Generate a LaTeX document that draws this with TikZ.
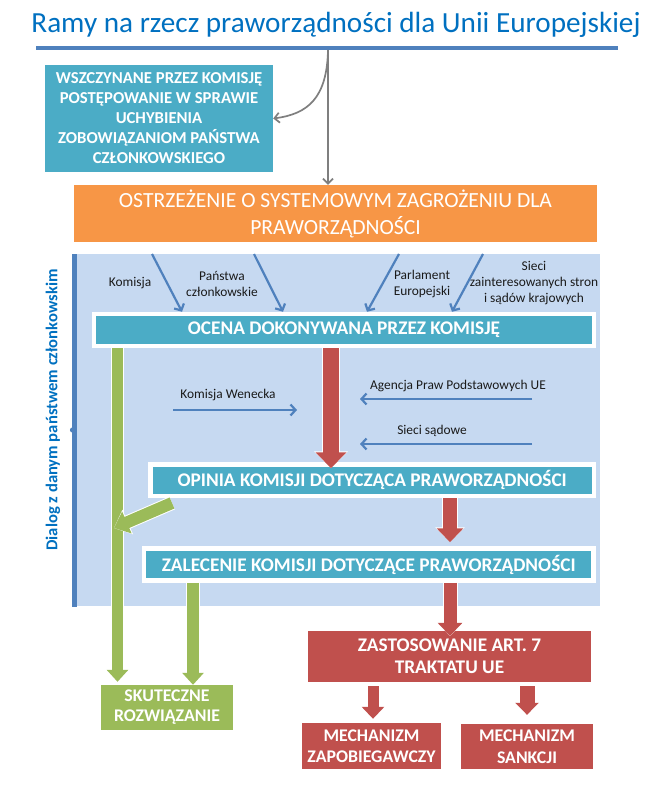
\documentclass[tikz,border=0pt]{standalone}
\usepackage{fontspec}
\setmainfont{Carlito}
\usetikzlibrary{arrows.meta,calc}
\definecolor{cTitle}{HTML}{0070C0}
\definecolor{cBlue}{HTML}{4F81BD}
\definecolor{cTeal}{HTML}{4BACC6}
\definecolor{cOrange}{HTML}{F79646}
\definecolor{cLight}{HTML}{C6D9F1}
\definecolor{cGreen}{HTML}{9BBB59}
\definecolor{cRed}{HTML}{C0504D}
\definecolor{cGray}{HTML}{7F7F7F}
\definecolor{cText}{HTML}{1A1A1A}
\begin{document}
\begin{tikzpicture}[x=1pt,y=-1pt,
  fillbox/.style={inner sep=0pt, align=center, text=white},
  framebox/.style={fillbox, fill=cTeal, draw=white, line width=4.5pt,
     font=\bfseries\fontsize{19.3}{22}\selectfont},
  redbox/.style={fillbox, fill=cRed, font=\bfseries\fontsize{17.8}{21.5}\selectfont},
  lbl/.style={inner sep=0pt, align=center, text=cText, font=\fontsize{13.4}{16}\selectfont},
  barrow/.style={cBlue, line width=2.2pt, -{Straight Barb[length=5pt,width=11pt]}},
  garrow/.style={cGray, line width=1.7pt, -{Straight Barb[length=5pt,width=10pt]}},
]
\useasboundingbox (0,0) rectangle (655,810);

% title
\node[anchor=base, inner sep=0pt, text=cTitle, font=\fontsize{29.2}{31}\selectfont] (title) at (336,33) {Ramy na rzecz praworządności dla Unii Europejskiej};
\draw[cBlue, line width=4pt] (36,48) -- (618,48);
\coordinate (gs) at (328,50);

% top boxes
\node[fillbox, fill=cTeal, minimum width=228pt, minimum height=107pt,
  font=\bfseries\fontsize{16.7}{20}\selectfont] (wsz) at (159,118.5)
  {WSZCZYNANE PRZEZ KOMISJĘ\\POSTĘPOWANIE W SPRAWIE\\UCHYBIENIA\\ZOBOWIĄZANIOM PAŃSTWA\\CZŁONKOWSKIEGO};
\node[fillbox, fill=cOrange, minimum width=523pt, minimum height=57pt,
  font=\fontsize{21.6}{27}\selectfont] (ostr) at (335.5,213.5)
  {OSTRZEŻENIE O SYSTEMOWYM ZAGROŻENIU DLA\\PRAWORZĄDNOŚCI};

\draw[garrow] (gs) -- (ostr.north -| gs);
\draw[garrow] (gs) .. controls (327,98) and (308,114) .. (wsz.east);

% dialog region
\node[fill=cLight, inner sep=0pt, minimum width=523pt, minimum height=352pt, anchor=north west] (region) at (77,254) {};
\draw[cBlue, line width=5pt] (74.5,254) -- (74.5,607);
\fill[cBlue] (72.5,430) circle (2.6pt);
\node[rotate=90, inner sep=0pt, text=cTitle, font=\bfseries\fontsize{16.6}{18}\selectfont] (dialog) at (53,410) {Dialog z danym państwem członkowskim};

% framed boxes
\node[framebox, minimum width=500pt, minimum height=32pt] (ocena) at (344,330) {OCENA DOKONYWANA PRZEZ KOMISJĘ};
\node[framebox, minimum width=443.5pt, minimum height=31.5pt] (opinia) at (372.25,480.25) {OPINIA KOMISJI DOTYCZĄCA PRAWORZĄDNOŚCI};
\node[framebox, minimum width=449.5pt, minimum height=32pt] (zal) at (368.75,564.5) {ZALECENIE KOMISJI DOTYCZĄCE PRAWORZĄDNOŚCI};

% bottom boxes
\node[fillbox, fill=cGreen, minimum width=132pt, minimum height=45pt,
  font=\bfseries\fontsize{17.8}{20}\selectfont] (skut) at (167,707.5) {SKUTECZNE\\ROZWIĄZANIE};
\node[redbox, minimum width=283pt, minimum height=51pt, font=\bfseries\fontsize{19.3}{22}\selectfont] (zast) at (449.5,656.5) {ZASTOSOWANIE ART. 7\\TRAKTATU UE};
\node[redbox, minimum width=139pt, minimum height=46pt] (mzap) at (371.5,746) {MECHANIZM\\ZAPOBIEGAWCZY};
\node[redbox, minimum width=132pt, minimum height=45pt] (msan) at (527,746.5) {MECHANIZM\\SANKCJI};

% labels
\node[lbl] (l1) at (130,283) {Komisja};
\node[lbl] (l2) at (222,284) {Państwa\\członkowskie};
\node[lbl] (l3) at (422,284) {Parlament\\Europejski};
\node[lbl] (l4) at (534,283.5) {Sieci\\zainteresowanych stron\\i sądów krajowych};
\node[lbl] (l5) at (228,395) {Komisja Wenecka};
\node[lbl] (l6) at (458,386) {Agencja Praw Podstawowych UE};
\node[lbl] (l7) at (432,431) {Sieci sądowe};

% blue arrows
\coordinate (a1) at (152,254); \coordinate (a1e) at (182,0);
\coordinate (a2) at (254,254); \coordinate (a2e) at (283,0);
\coordinate (a3) at (399,254); \coordinate (a3e) at (367,0);
\coordinate (a4) at (483,254); \coordinate (a4e) at (452,0);
\draw[barrow] (a1) -- (ocena.north -| a1e);
\draw[barrow] (a2) -- (ocena.north -| a2e);
\draw[barrow] (a3) -- (ocena.north -| a3e);
\draw[barrow] (a4) -- (ocena.north -| a4e);
\coordinate (kw1) at (173,410); \coordinate (kw2) at (297,410);
\coordinate (ag1) at (532,399); \coordinate (ag2) at (360,399);
\coordinate (ss1) at (532,444); \coordinate (ss2) at (360,444);
\draw[barrow] (kw1) -- (kw2);
\draw[barrow] (ag1) -- (ag2);
\draw[barrow] (ss1) -- (ss2);

% block arrows
\coordinate (g1) at (117.5,0);
\coordinate (g2) at (193,0);
\coordinate (r1) at (331,0);
\coordinate (r2) at (450,0);
\coordinate (r4) at (373,0);
\coordinate (r5) at (527,0);
\coordinate (gd1) at (172,503);
\coordinate (gd2) at (114,528);

% green 1
\draw[white, line width=13pt, -{Triangle[length=13pt,width=24pt]}] (ocena.south -| g1) -- ($(skut.north -| g1)+(0,-3)$);
\draw[cGreen, line width=11pt, -{Triangle[length=12pt,width=21pt]}] (ocena.south -| g1) -- ($(skut.north -| g1)+(0,-3)$);
% green diagonal
\draw[white, line width=14pt, -{Triangle[length=15pt,width=26pt]}] (gd1) -- (gd2);
\draw[cGreen, line width=12pt, -{Triangle[length=14pt,width=23pt]}] (gd1) -- (gd2);
% green 2
\draw[white, line width=14pt, -{Triangle[length=13pt,width=24pt]}] (zal.south -| g2) -- (skut.north -| g2);
\draw[cGreen, line width=12pt, -{Triangle[length=12pt,width=21pt]}] (zal.south -| g2) -- (skut.north -| g2);
% red 1
\draw[white, line width=18pt, -{Triangle[length=17pt,width=33pt]}] (ocena.south -| r1) -- ($(opinia.north -| r1)+(0,6)$);
\draw[cRed, line width=16pt, -{Triangle[length=16pt,width=30pt]}] (ocena.south -| r1) -- ($(opinia.north -| r1)+(0,6)$);
% red 2
\draw[white, line width=16pt, -{Triangle[length=15pt,width=29pt]}] (opinia.south -| r2) -- ($(zal.north -| r2)+(0,-4)$);
\draw[cRed, line width=14pt, -{Triangle[length=14pt,width=26pt]}] (opinia.south -| r2) -- ($(zal.north -| r2)+(0,-4)$);
% red 3
\draw[white, line width=15pt, -{Triangle[length=14pt,width=27pt]}] (zal.south -| r2) -- ($(zast.north -| r2)+(0,5)$);
\draw[cRed, line width=13pt, -{Triangle[length=13pt,width=24pt]}] (zal.south -| r2) -- ($(zast.north -| r2)+(0,5)$);
% red 4, 5
\draw[cRed, line width=11pt, -{Triangle[length=12pt,width=22pt]}] ($(zast.south -| r4)+(0,4)$) -- ($(mzap.north -| r4)+(0,-4)$);
\draw[cRed, line width=15pt, -{Triangle[length=12pt,width=23pt]}] ($(zast.south -| r5)+(0,4)$) -- ($(msan.north -| r5)+(0,-9)$);
\end{tikzpicture}
\end{document}
